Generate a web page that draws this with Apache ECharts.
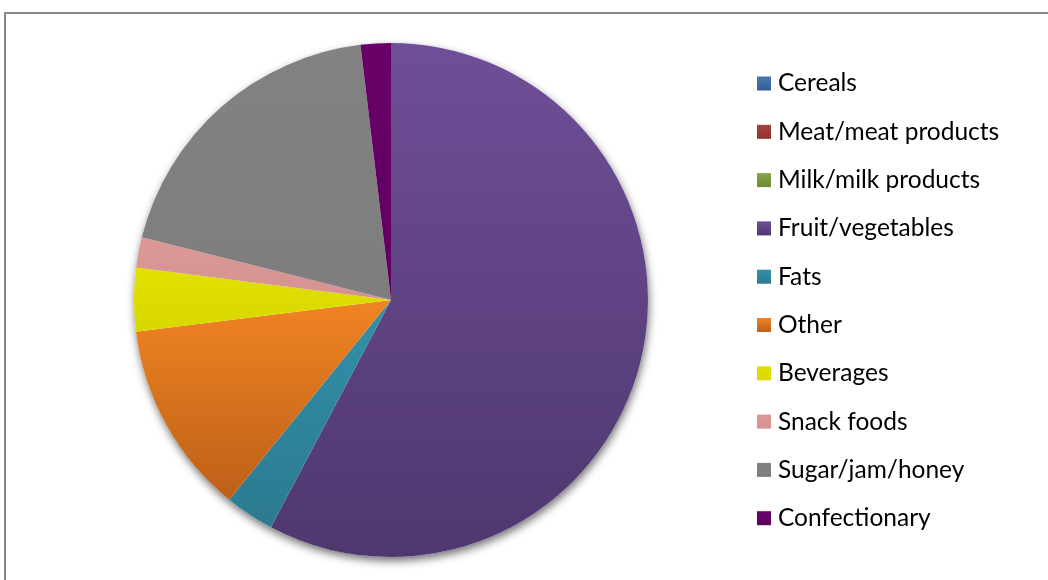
<!DOCTYPE html>
<html>
<head>
<meta charset="utf-8">
<script src="https://cdn.jsdelivr.net/npm/echarts@6/dist/echarts.min.js"></script>
<style>
  html, body { margin: 0; padding: 0; background: #fff; }
  #chart { width: 1048px; height: 580px; }
</style>
</head>
<body>
<div id="chart"></div>
<script>
// Share of energy (%) by food group
const categories = [
  'Cereals', 'Meat/meat products', 'Milk/milk products', 'Fruit/vegetables',
  'Fats', 'Other', 'Beverages', 'Snack foods', 'Sugar/jam/honey', 'Confectionary'
];
const shares = [0, 0, 0, 57.8, 3.1, 12.2, 4.0, 1.9, 19.2, 1.9];

// [top, bottom] shade of each slice
const sliceShades = [
  ['#4a7ab4', '#325d91'],
  ['#a8423f', '#8c3431'],
  ['#86a64a', '#6c8a35'],
  ['#6f4f98', '#4f376f'],
  ['#3290aa', '#2c7a90'],
  ['#f08422', '#bd6019'],
  ['#e0e000', '#d8d800'],
  ['#db9896', '#d59290'],
  ['#828282', '#7e7e7e'],
  ['#680068', '#600060']
];

function shade(pair) {
  return new echarts.graphic.LinearGradient(0, 0, 0, 1, [
    { offset: 0, color: pair[0] },
    { offset: 1, color: pair[1] }
  ]);
}

const pieData = categories.map((name, i) => ({
  name: name,
  value: shares[i],
  itemStyle: { color: shade(sliceShades[i]) }
}));

const chart = echarts.init(document.getElementById('chart'), null, { renderer: 'canvas' });
chart.setOption({
  animation: false,
  backgroundColor: '#ffffff',
  graphic: [{
    type: 'rect',
    shape: { x: 5, y: 13, width: 1200, height: 700 },
    style: { fill: 'none', stroke: '#878787', lineWidth: 2 },
    silent: true,
    z: 0
  }],
  legend: {
    data: categories,
    orient: 'vertical',
    left: 757,
    top: 71,
    padding: 0,
    icon: 'rect',
    itemWidth: 14,
    itemHeight: 14,
    itemGap: 23.3,
    textStyle: {
      fontFamily: 'Lato',
      fontSize: 24.5,
      lineHeight: 24,
      color: '#000',
      padding: [0, 0, 0, 2]
    }
  },
  series: [
    {
      // soft drop shadow under the pie
      type: 'pie',
      silent: true,
      center: [391, 300],
      radius: 257,
      label: { show: false },
      labelLine: { show: false },
      z: 1,
      data: [{
        value: 1,
        name: '',
        itemStyle: {
          color: '#ffffff',
          shadowBlur: 8,
          shadowColor: 'rgba(0,0,0,0.55)',
          shadowOffsetX: 1,
          shadowOffsetY: 4
        }
      }]
    },
    {
      type: 'pie',
      center: [391, 300],
      radius: 257,
      startAngle: 90,
      clockwise: true,
      minAngle: 0,
      z: 2,
      label: { show: false },
      labelLine: { show: false },
      itemStyle: { borderWidth: 0 },
      emphasis: { scale: false },
      data: pieData
    }
  ]
});
</script>
</body>
</html>
